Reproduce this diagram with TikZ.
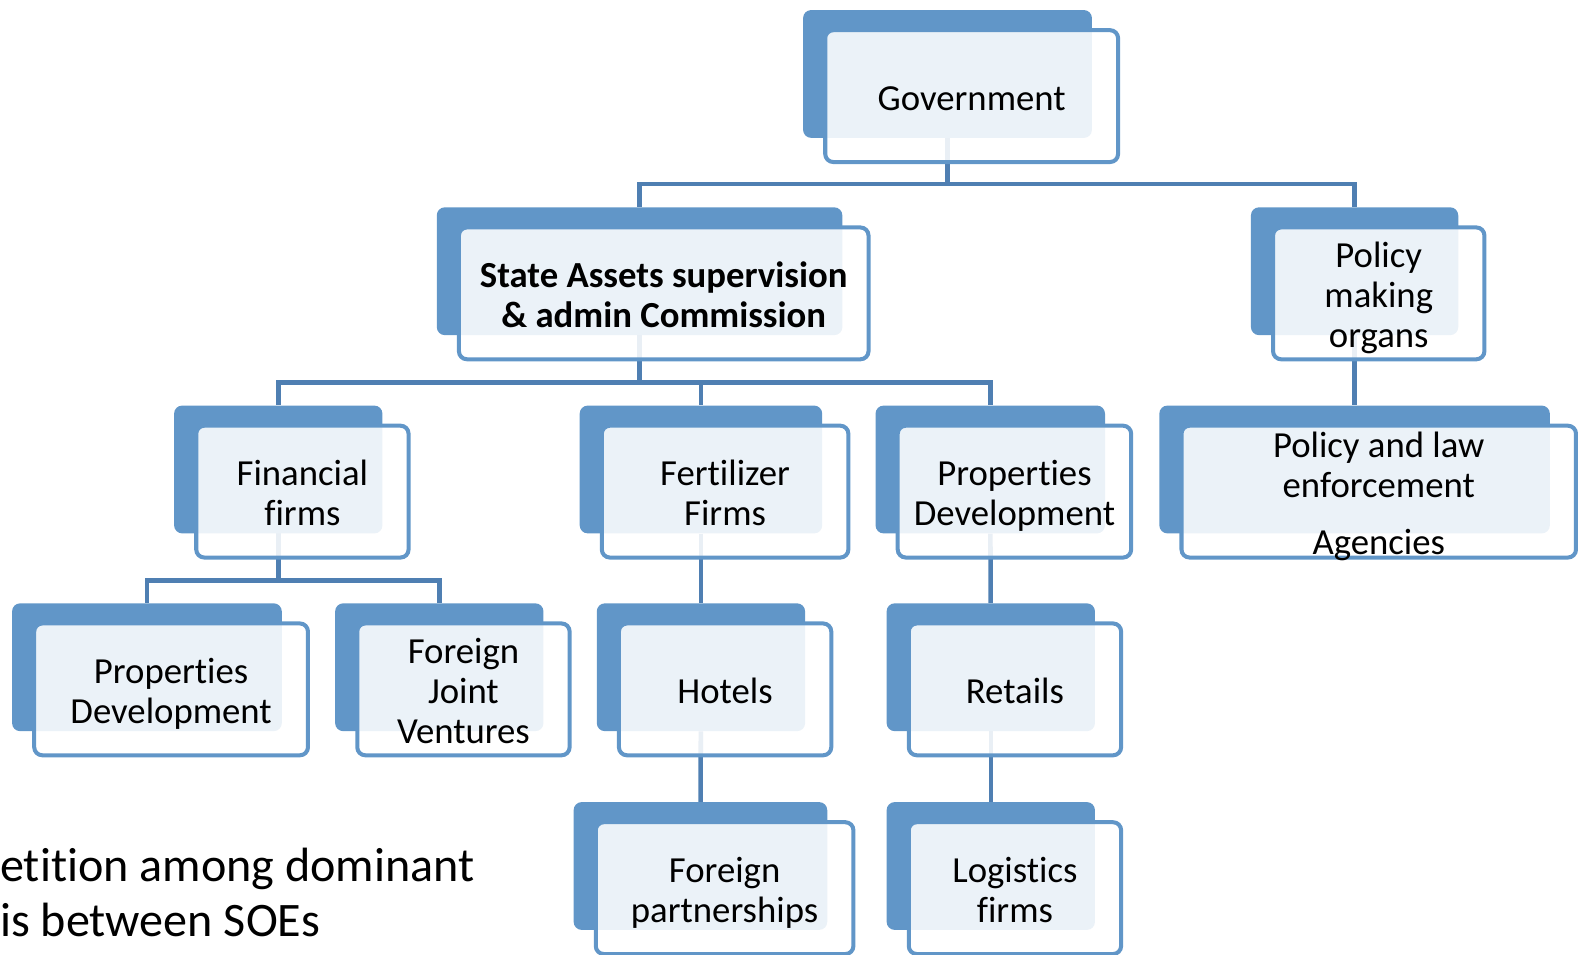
\documentclass[tikz,border=0pt]{standalone}
\usepackage{fontspec}
\setmainfont{Carlito}[Ligatures=NoCommon]
\definecolor{boxblue}{RGB}{97,150,200}
\definecolor{linkblue}{RGB}{79,127,178}
\pgfdeclarelayer{bg}
\pgfsetlayers{bg,main}
\newcommand{\upstrut}{\rule{0pt}{36pt}}
\newcommand{\dnstrut}{\rule[-8pt]{0pt}{8pt}}
\tikzset{
  back/.style={fill=boxblue, rounded corners=8pt, minimum height=127pt, inner sep=0pt},
  front/.style={draw=boxblue, line width=4pt, fill=white, fill opacity=0.88, text opacity=1,
    rounded corners=8pt, minimum height=131pt, inner sep=0pt, align=center,
    font=\fontsize{36.5}{40}\selectfont},
  link/.style={draw=linkblue, line width=4.5pt}
}
\begin{document}
\begin{tikzpicture}[x=1pt,y=-1pt]
\useasboundingbox (0,0) rectangle (1568,948);

\node[back, minimum width=287pt] (gov) at (941.5,73.5) {};
\node[front, minimum width=291pt] (govf) at (965.5,95.5) {\upstrut Government\dnstrut};

\node[back, minimum width=403pt] (sasac) at (635.5,269.5) {};
\node[front, minimum width=407pt] (sasacf) at (659.5,291.5) {\bfseries\upstrut State Assets supervision\\\bfseries \& admin Commission\dnstrut};
\node[back, minimum width=206pt] (policy) at (1346,269.5) {};
\node[front, minimum width=210pt] (policyf) at (1370,291.5) {\upstrut Policy\\making\\organs\dnstrut};

\node[back, minimum width=207pt] (fin) at (276.5,466.5) {};
\node[front, minimum width=211pt] (finf) at (300.5,488.5) {\upstrut Financial\\firms\dnstrut};
\node[back, minimum width=241pt] (fert) at (696.5,466.5) {};
\node[front, minimum width=245pt] (fertf) at (720.5,488.5) {\upstrut Fertilizer\\Firms\dnstrut};
\node[back, minimum width=228pt] (prop) at (984,466.5) {};
\node[front, minimum width=232pt] (propf) at (1008,488.5) {\upstrut Properties\\Development\dnstrut};
\node[back, minimum width=388pt] (law) at (1346,466.5) {};
\node[front, minimum width=392pt] (lawf) at (1370,488.5) {\rule{0pt}{31.5pt}Policy and law\\enforcement\\[16pt]\raisebox{0pt}[\height][0pt]{Agencies}\rule[-3.5pt]{0pt}{3.5pt}};

\node[back, minimum width=268pt] (prop2) at (146,663) {};
\node[front, minimum width=272pt] (prop2f) at (170,685) {\upstrut Properties\\Development\dnstrut};
\node[back, minimum width=207pt] (fjv) at (436.5,663) {};
\node[front, minimum width=211pt] (fjvf) at (460.5,685) {\upstrut Foreign\\Joint\\Ventures\dnstrut};
\node[back, minimum width=207pt] (hotel) at (696.5,663) {};
\node[front, minimum width=211pt] (hotelf) at (720.5,685) {\upstrut Hotels\dnstrut};
\node[back, minimum width=207pt] (retail) at (984.5,663) {};
\node[front, minimum width=211pt] (retailf) at (1008.5,685) {\upstrut Retails\dnstrut};

\node[back, minimum width=252pt] (fpart) at (696,860.5) {};
\node[front, minimum width=256pt] (fpartf) at (720,882.5) {\upstrut Foreign\\partnerships\dnstrut};
\node[back, minimum width=207pt] (logis) at (984.5,860.5) {};
\node[front, minimum width=211pt] (logisf) at (1008.5,882.5) {\upstrut Logistics\\firms\dnstrut};

\node[anchor=west, inner sep=0pt, align=left, font=\fontsize{47.8}{55}\selectfont] (note) at (0,887) {etition among dominant\\is between SOEs};

\coordinate (govbus) at (941.5,183);
\coordinate (sasacbus) at (635.5,380);
\coordinate (finbus) at (276.5,577);

\begin{pgfonlayer}{bg}
\path[link] (gov.center) -- (govbus) -| (sasac.north);
\path[link] (govbus) -| (policy.north);
\path[link] (sasac.center) -- (sasacbus) -| (fin.north);
\path[link] (sasacbus) -| (fert.north);
\path[link] (sasacbus) -| (prop.north);
\path[link] (policy) -- (law);
\path[link] (fin.center) -- (finbus) -| (prop2.north);
\path[link] (finbus) -| (fjv.north);
\path[link] (fert) -- (hotel);
\path[link] (prop) -- (retail);
\path[link] (hotel) -- (fpart);
\path[link] (retail) -- (logis);
\end{pgfonlayer}
\end{tikzpicture}
\end{document}
